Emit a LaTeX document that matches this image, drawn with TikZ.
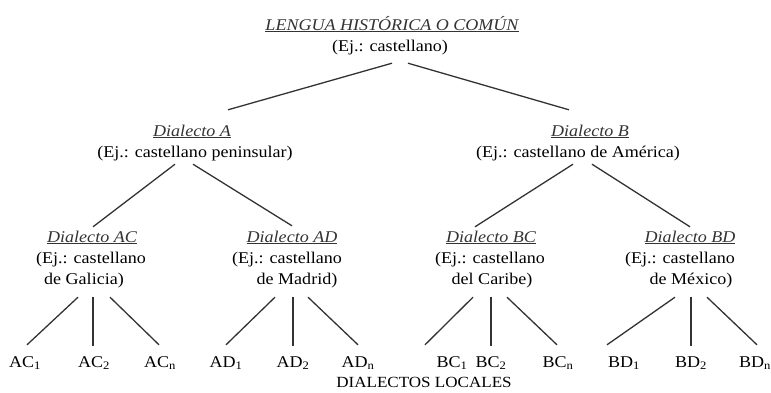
\documentclass[tikz,border=0pt]{standalone}
\usepackage{fontspec}
\setmainfont{Liberation Serif}[FakeStretch=1.1]
\begin{document}
\begin{tikzpicture}[x=1pt,y=-1pt,
  txt/.style={anchor=base,inner sep=0pt,text height=12pt,text depth=4pt,
              font=\fontsize{16.4}{20}\selectfont,text=black},
  head/.style={txt,font=\fontsize{16.4}{20}\selectfont\itshape,text=black!80},
  leaf/.style={txt},
  edge/.style={draw=black!80,line width=1.3pt}]
\useasboundingbox (0,0) rectangle (771,392);

% root
\node[head] (rT) at (392,30) {\underline{LENGUA HISTÓRICA O COMÚN}};
\node[txt]  (rE) at (390,51) {(Ej.: castellano)};

% first level
\node[head] (aT) at (192,136) {\underline{Dialecto A}};
\node[txt]  (aE) at (195,157) {(Ej.: castellano peninsular)};
\node[head] (bT) at (590,136) {\underline{Dialecto B}};
\node[txt]  (bE) at (578,157) {(Ej.: castellano de América)};

% second level
\node[head] (acT) at (92,242)  {\underline{Dialecto AC}};
\node[txt]  (acE) at (91,263)  {(Ej.: castellano};
\node[txt]  (acB) at (84,284)  {de Galicia)};
\node[head] (adT) at (292,242) {\underline{Dialecto AD}};
\node[txt]  (adE) at (287,263) {(Ej.: castellano};
\node[txt]  (adB) at (297,284) {de Madrid)};
\node[head] (bcT) at (491,242) {\underline{Dialecto BC}};
\node[txt]  (bcE) at (490,263) {(Ej.: castellano};
\node[txt]  (bcB) at (492,284) {del Caribe)};
\node[head] (bdT) at (690,242) {\underline{Dialecto BD}};
\node[txt]  (bdE) at (680,263) {(Ej.: castellano};
\node[txt]  (bdB) at (691,284) {de México)};

% local dialects
\node[leaf] (ac1) at (25,367)  {AC\textsubscript{1}};
\node[leaf] (ac2) at (94,367)  {AC\textsubscript{2}};
\node[leaf] (acn) at (160,367) {AC\textsubscript{n}};
\node[leaf] (ad1) at (226,367) {AD\textsubscript{1}};
\node[leaf] (ad2) at (293,367) {AD\textsubscript{2}};
\node[leaf] (adn) at (358,367) {AD\textsubscript{n}};
\node[leaf] (bc1) at (452,367) {BC\textsubscript{1}};
\node[leaf] (bc2) at (491,367) {BC\textsubscript{2}};
\node[leaf] (bcn) at (558,367) {BC\textsubscript{n}};
\node[leaf] (bd1) at (624,367) {BD\textsubscript{1}};
\node[leaf] (bd2) at (691,367) {BD\textsubscript{2}};
\node[leaf] (bdn) at (755,367) {BD\textsubscript{n}};
\node[txt,font=\fontsize{15.5}{18}\selectfont] (loc) at (424,387) {DIALECTOS LOCALES};

% root branches
\draw[edge] ([xshift=2pt,yshift=-8pt]rE.south)  -- ([xshift=36pt,yshift=14pt]aT.north);
\draw[edge] ([xshift=18pt,yshift=-8pt]rE.south) -- ([xshift=-21pt,yshift=14pt]bT.north);

% first-level branches
\draw[edge] ([xshift=-20pt,yshift=-3pt]aE.south) -- ([xshift=1pt,yshift=3pt]acT.north);
\draw[edge] ([xshift=-2pt,yshift=-3pt]aE.south)  -- ([yshift=4pt]adT.north);
\draw[edge] ([xshift=-5pt,yshift=-3pt]bE.south)  -- ([xshift=-16pt,yshift=3pt]bcT.north);
\draw[edge] ([xshift=14pt,yshift=-3pt]bE.south)  -- ([yshift=3pt]bdT.north);

% second-level branches
\draw[edge] ([xshift=-6pt,yshift=-9pt]acB.south) -- ([xshift=2pt,yshift=10pt]ac1.north);
\draw[edge] ([xshift=9pt,yshift=-9pt]acB.south)  -- ([xshift=-1pt,yshift=9pt]ac2.north);
\draw[edge] ([xshift=26pt,yshift=-9pt]acB.south) -- ([xshift=-1pt,yshift=10pt]acn.north);

\draw[edge] ([xshift=-22pt,yshift=-9pt]adB.south) -- ([yshift=10pt]ad1.north);
\draw[edge] ([xshift=-4pt,yshift=-9pt]adB.south)  -- ([yshift=9pt]ad2.north);
\draw[edge] ([xshift=11pt,yshift=-9pt]adB.south)  -- ([yshift=10pt]adn.north);

\draw[edge] ([xshift=-19pt,yshift=-9pt]bcB.south) -- ([xshift=-27pt,yshift=10pt]bc1.north);
\draw[edge] ([xshift=-1pt,yshift=-9pt]bcB.south)  -- ([yshift=9pt]bc2.north);
\draw[edge] ([xshift=15pt,yshift=-9pt]bcB.south)  -- ([xshift=-1pt,yshift=10pt]bcn.north);

\draw[edge] ([xshift=-16pt,yshift=-9pt]bdB.south) -- ([xshift=-17pt,yshift=10pt]bd1.north);
\draw[edge] ([yshift=-9pt]bdB.south)              -- ([yshift=9pt]bd2.north);
\draw[edge] ([xshift=16pt,yshift=-9pt]bdB.south)  -- ([xshift=2pt,yshift=10pt]bdn.north);
\end{tikzpicture}
\end{document}
